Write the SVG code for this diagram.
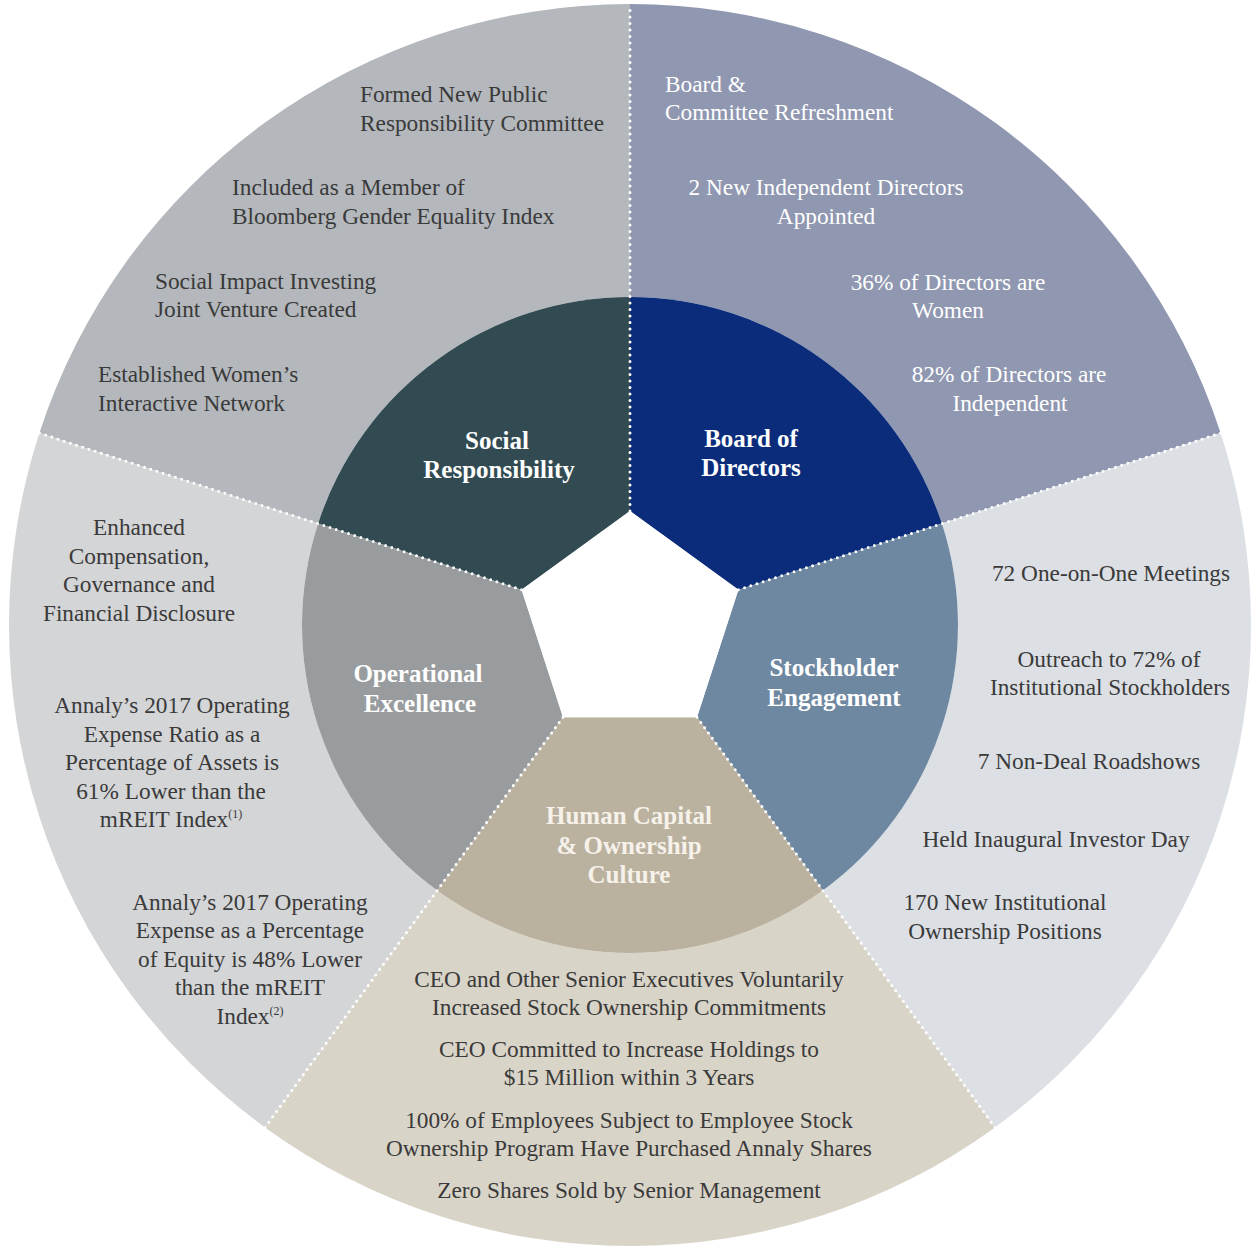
<svg xmlns="http://www.w3.org/2000/svg" width="1252" height="1248" viewBox="0 0 1252 1248">
<style>
.t{font-family:"Liberation Serif","Times New Roman",serif;font-size:23.3px;fill:#3a3a3a}
.w{fill:#ffffff}
.c{text-anchor:middle}
.lbl{font-family:"Liberation Serif","Times New Roman",serif;font-weight:bold;font-size:25px;fill:#ffffff;text-anchor:middle}
.sup{font-size:12px}
.dot{stroke:#ffffff;stroke-width:3;stroke-linecap:round;stroke-dasharray:0 6.5;fill:none}
</style>
<rect width="1252" height="1248" fill="#ffffff"/>

<g id="social-responsibility">
<path d="M630,297 L630,4 A621,621 0 0 0 39.4,433.1 L318.1,523.6 A328,328 0 0 1 630,297 Z" fill="#b4b8bc"/>
<path d="M630,511 L630,297 A328,328 0 0 0 318.1,523.6 L521.6,589.8 Z" fill="#324b52"/>
<text class="lbl" x="497" y="449">Social</text>
<text class="lbl" x="499" y="478">Responsibility</text>
<text class="t" x="360" y="102">Formed New Public</text>
<text class="t" x="360" y="131">Responsibility Committee</text>
<text class="t" x="232" y="195">Included as a Member of</text>
<text class="t" x="232" y="224">Bloomberg Gender Equality Index</text>
<text class="t" x="155" y="289">Social Impact Investing</text>
<text class="t" x="155" y="317">Joint Venture Created</text>
<text class="t" x="98" y="382">Established Women’s</text>
<text class="t" x="98" y="411">Interactive Network</text>
</g>

<g id="board-of-directors">
<path d="M630,297 L630,4 A621,621 0 0 1 1220.6,433.1 L941.9,523.6 A328,328 0 0 0 630,297 Z" fill="#9097b0"/>
<path d="M630,511 L630,297 A328,328 0 0 1 941.9,523.6 L738.4,589.8 Z" fill="#0a2c7a"/>
<text class="lbl" x="751" y="447">Board of</text>
<text class="lbl" x="751" y="476">Directors</text>
<text class="t w" x="665" y="92">Board &amp;</text>
<text class="t w" x="665" y="120">Committee Refreshment</text>
<text class="t w c" x="826" y="195">2 New Independent Directors</text>
<text class="t w c" x="826" y="224">Appointed</text>
<text class="t w c" x="948" y="290">36% of Directors are</text>
<text class="t w c" x="948" y="318">Women</text>
<text class="t w c" x="1009" y="382">82% of Directors are</text>
<text class="t w c" x="1010" y="411">Independent</text>
</g>

<g id="stockholder-engagement">
<path d="M941.9,523.6 L1220.6,433.1 A621,621 0 0 1 995,1127.4 L822.8,890.4 A328,328 0 0 0 941.9,523.6 Z" fill="#dcdfe4"/>
<path d="M738.4,589.8 L941.9,523.6 A328,328 0 0 1 822.8,890.4 L697,717.2 Z" fill="#6f88a1"/>
<text class="lbl" x="834" y="676">Stockholder</text>
<text class="lbl" x="834" y="706">Engagement</text>
<text class="t c" x="1111" y="581">72 One-on-One Meetings</text>
<text class="t c" x="1109" y="667">Outreach to 72% of</text>
<text class="t c" x="1110" y="695">Institutional Stockholders</text>
<text class="t c" x="1089" y="769">7 Non-Deal Roadshows</text>
<text class="t c" x="1056" y="847">Held Inaugural Investor Day</text>
<text class="t c" x="1005" y="910">170 New Institutional</text>
<text class="t c" x="1005" y="939">Ownership Positions</text>
</g>

<g id="human-capital">
<path d="M822.8,890.4 L995,1127.4 A621,621 0 0 1 265,1127.4 L437.2,890.4 A328,328 0 0 0 822.8,890.4 Z" fill="#d9d4c8"/>
<path d="M697,717.2 L822.8,890.4 A328,328 0 0 1 437.2,890.4 L563,717.2 Z" fill="#bab19f"/>
<text class="lbl" x="629" y="824" style="fill:#f6f2ea">Human Capital</text>
<text class="lbl" x="629" y="854" style="fill:#f6f2ea">&amp; Ownership</text>
<text class="lbl" x="629" y="883" style="fill:#f6f2ea">Culture</text>
<text class="t c" x="629" y="987">CEO and Other Senior Executives Voluntarily</text>
<text class="t c" x="629" y="1015">Increased Stock Ownership Commitments</text>
<text class="t c" x="629" y="1057">CEO Committed to Increase Holdings to</text>
<text class="t c" x="629" y="1085">$15 Million within 3 Years</text>
<text class="t c" x="629" y="1128">100% of Employees Subject to Employee Stock</text>
<text class="t c" x="629" y="1156">Ownership Program Have Purchased Annaly Shares</text>
<text class="t c" x="629" y="1198">Zero Shares Sold by Senior Management</text>
</g>

<g id="operational-excellence">
<path d="M437.2,890.4 L265,1127.4 A621,621 0 0 1 39.4,433.1 L318.1,523.6 A328,328 0 0 0 437.2,890.4 Z" fill="#d4d5d7"/>
<path d="M563,717.2 L437.2,890.4 A328,328 0 0 1 318.1,523.6 L521.6,589.8 Z" fill="#999c9e"/>
<text class="lbl" x="418" y="682">Operational</text>
<text class="lbl" x="420" y="712">Excellence</text>
<text class="t c" x="139" y="535">Enhanced</text>
<text class="t c" x="139" y="564">Compensation,</text>
<text class="t c" x="139" y="592">Governance and</text>
<text class="t c" x="139" y="621">Financial Disclosure</text>
<text class="t c" x="172" y="713">Annaly’s 2017 Operating</text>
<text class="t c" x="172" y="742">Expense Ratio as a</text>
<text class="t c" x="172" y="770">Percentage of Assets is</text>
<text class="t c" x="171" y="799">61% Lower than the</text>
<text class="t c" x="171" y="827">mREIT Index<tspan class="sup" dy="-9">(1)</tspan></text>
<text class="t c" x="250" y="910">Annaly’s 2017 Operating</text>
<text class="t c" x="250" y="938">Expense as a Percentage</text>
<text class="t c" x="250" y="967">of Equity is 48% Lower</text>
<text class="t c" x="250" y="995">than the mREIT</text>
<text class="t c" x="250" y="1024">Index<tspan class="sup" dy="-9">(2)</tspan></text>
</g>

<g id="center">
<polygon points="630,511 738.4,589.8 697,717.2 563,717.2 521.6,589.8" fill="#ffffff"/>
</g>

<g id="connectors">
<line class="dot" x1="630" y1="511" x2="630" y2="4"/>
<line class="dot" x1="738.4" y1="589.8" x2="1220.6" y2="433.1"/>
<line class="dot" x1="697" y1="717.2" x2="995" y2="1127.4"/>
<line class="dot" x1="563" y1="717.2" x2="265" y2="1127.4"/>
<line class="dot" x1="521.6" y1="589.8" x2="39.4" y2="433.1"/>
</g>
</svg>
